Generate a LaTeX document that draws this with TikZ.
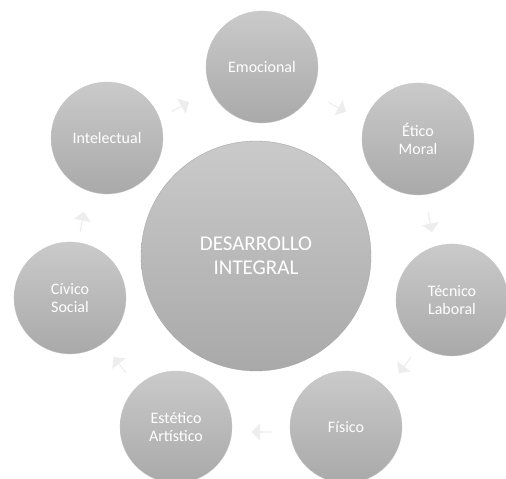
\documentclass[tikz,border=0pt]{standalone}
\usepackage{fontspec}
\setmainfont{Carlito}
\usetikzlibrary{shapes.arrows}
\definecolor{ctop}{HTML}{CACACA}
\definecolor{cbot}{HTML}{A9A9A9}
\definecolor{arrowfill}{HTML}{EDEDED}
\tikzset{
  ball/.style={circle, minimum size=112pt, inner sep=0pt, top color=ctop, bottom color=cbot,
    draw=gray!45, line width=0.3pt, text=white, font=\fontsize{16}{18.5}\selectfont, align=center},
  bigball/.style={ball, minimum size=230pt, draw=gray!75, font=\fontsize{21}{24}\selectfont},
  cyclearrow/.style={single arrow, fill=arrowfill, draw=none, minimum height=20pt,
    minimum width=17pt, single arrow head extend=3pt, inner sep=0pt}
}
\begin{document}
\begin{tikzpicture}[x=1pt,y=1pt]
\useasboundingbox (0,0) rectangle (506,479);
\fill[white] (0,0) rectangle (506,479);
\node[bigball] (c) at (256,223) {DESARROLLO\\INTEGRAL};
\node[ball] (emo) at (262,412) {Emocional};
\node[ball] (eti) at (418,340) {Ético\\Moral};
\node[ball] (tec) at (452,179) {Técnico\\Laboral};
\node[ball] (fis) at (346,52) {Físico};
\node[ball] (est) at (176,52) {Estético\\Artístico};
\node[ball] (civ) at (70,181) {Cívico\\Social};
\node[ball] (int) at (107,341) {Intelectual};
% cycle arrows (clockwise)
\node[cyclearrow, rotate=-28] (a1) at (337,372) {};
\node[cyclearrow, rotate=-79] (a2) at (430,257) {};
\node[cyclearrow, rotate=-127] (a3) at (405,114) {};
\node[cyclearrow, rotate=180] (a4) at (262,47) {};
\node[cyclearrow, rotate=128] (a5) at (120,114) {};
\node[cyclearrow, rotate=79] (a6) at (82,257) {};
\node[cyclearrow, rotate=28] (a7) at (180,372) {};
\end{tikzpicture}
\end{document}
